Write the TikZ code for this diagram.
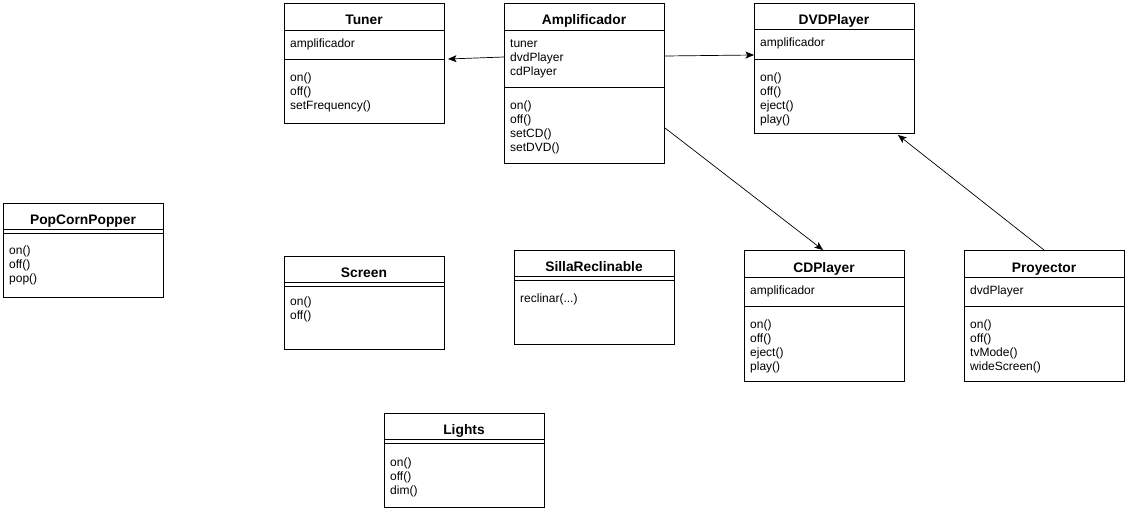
\documentclass[tikz,border=0pt]{standalone}
\usepackage{fontspec}
\setmainfont{Liberation Sans}
\usetikzlibrary{arrows.meta}
\newcommand\bodyf{\fontsize{12}{14}\selectfont}
\newcommand\titlef{\fontsize{13.8}{16}\selectfont\bfseries}
\tikzset{
  umlbox/.style={draw, line width=1pt, rectangle, minimum width=160pt, inner sep=0pt, anchor=north west},
  umltitle/.style={font=\titlef, anchor=base, inner sep=0pt},
  umltext/.style={font=\bodyf, anchor=base west, inner sep=0pt},
  sepline/.style={line width=1pt},
  rel/.style={-{Stealth[length=8.5pt,width=7pt,inset=2pt]}, line width=0.7pt}
}
\newcommand\umlsep[2]{\draw[sepline] (#1.west |- 0,#2) -- (#1.east |- 0,#2);}
\newcommand\umlrows[3]{\foreach \ry/\rtext [count=\ri] in {#3}{\node[umltext] (#1-r\ri) at (#2,\ry) {\rtext};}}
\begin{document}
\begin{tikzpicture}[x=1pt,y=-1pt]
\useasboundingbox (0,0) rectangle (1128,514);
\fill[white] (0,0) rectangle (1128,514);
% Tuner
\node[umlbox, minimum height=120pt] (tuner) at (284,3) {};
\node[umltitle] (tunerT) at (364,24) {Tuner};
\umlsep{tuner}{30}\umlsep{tuner}{59}
\umlrows{tuner}{290}{47/amplificador,81/on(),95/off(),109/setFrequency()}
% Amplificador
\node[umlbox, minimum height=160pt] (amp) at (504,3) {};
\node[umltitle] (ampT) at (584,24) {Amplificador};
\umlsep{amp}{30}\umlsep{amp}{87}
\umlrows{amp}{510}{47/tuner,61/dvdPlayer,75/cdPlayer,109/on(),123/off(),137/setCD(),151/setDVD()}
% DVDPlayer
\node[umlbox, minimum height=130pt] (dvd) at (754,3) {};
\node[umltitle] (dvdT) at (834,24) {DVDPlayer};
\umlsep{dvd}{29}\umlsep{dvd}{59}
\umlrows{dvd}{760}{46/amplificador,81/on(),95/off(),109/eject(),123/play()}
% PopCornPopper
\node[umlbox, minimum height=94pt] (pop) at (3,203) {};
\node[umltitle] (popT) at (83,224) {PopCornPopper};
\umlsep{pop}{229}\umlsep{pop}{233}
\umlrows{pop}{9}{254/on(),268/off(),282/pop()}
% Screen
\node[umlbox, minimum height=93pt] (screen) at (284,256) {};
\node[umltitle] (screenT) at (364,277) {Screen};
\umlsep{screen}{282}\umlsep{screen}{286}
\umlrows{screen}{290}{305/on(),319/off()}
% SillaReclinable
\node[umlbox, minimum height=94pt] (silla) at (514,250) {};
\node[umltitle] (sillaT) at (594,271) {SillaReclinable};
\umlsep{silla}{276}\umlsep{silla}{280}
\node[umltext] (silla-r1) at (520,302) {reclinar(...)};
% CDPlayer
\node[umlbox, minimum height=131pt] (cd) at (744,250) {};
\node[umltitle] (cdT) at (824,272) {CDPlayer};
\umlsep{cd}{277}\umlsep{cd}{306}
\umlrows{cd}{750}{294/amplificador,328/on(),342/off(),356/eject(),370/play()}
% Proyector
\node[umlbox, minimum height=131pt] (proy) at (964,250) {};
\node[umltitle] (proyT) at (1044,272) {Proyector};
\umlsep{proy}{277}\umlsep{proy}{306}
\umlrows{proy}{970}{294/dvdPlayer,328/on(),342/off(),356/tvMode(),370/wideScreen()}
% Lights
\node[umlbox, minimum height=94pt] (lights) at (384,413) {};
\node[umltitle] (lightsT) at (464,434) {Lights};
\umlsep{lights}{439}\umlsep{lights}{443}
\umlrows{lights}{390}{466/on(),480/off(),494/dim()}
% connectors
\draw[rel] ([yshift=-54pt]amp.north west) -- ([xshift=3pt,yshift=-56pt]tuner.north east);
\draw[rel] ([yshift=-53pt]amp.north east) -- ([yshift=-52pt]dvd.north west);
\draw[rel] ([yshift=-125pt]amp.north east) -- ([xshift=79pt]cd.north west);
\draw[rel] ([xshift=80pt]proy.north west) -- ([xshift=-17pt,yshift=-1pt]dvd.south east);
\end{tikzpicture}
\end{document}
